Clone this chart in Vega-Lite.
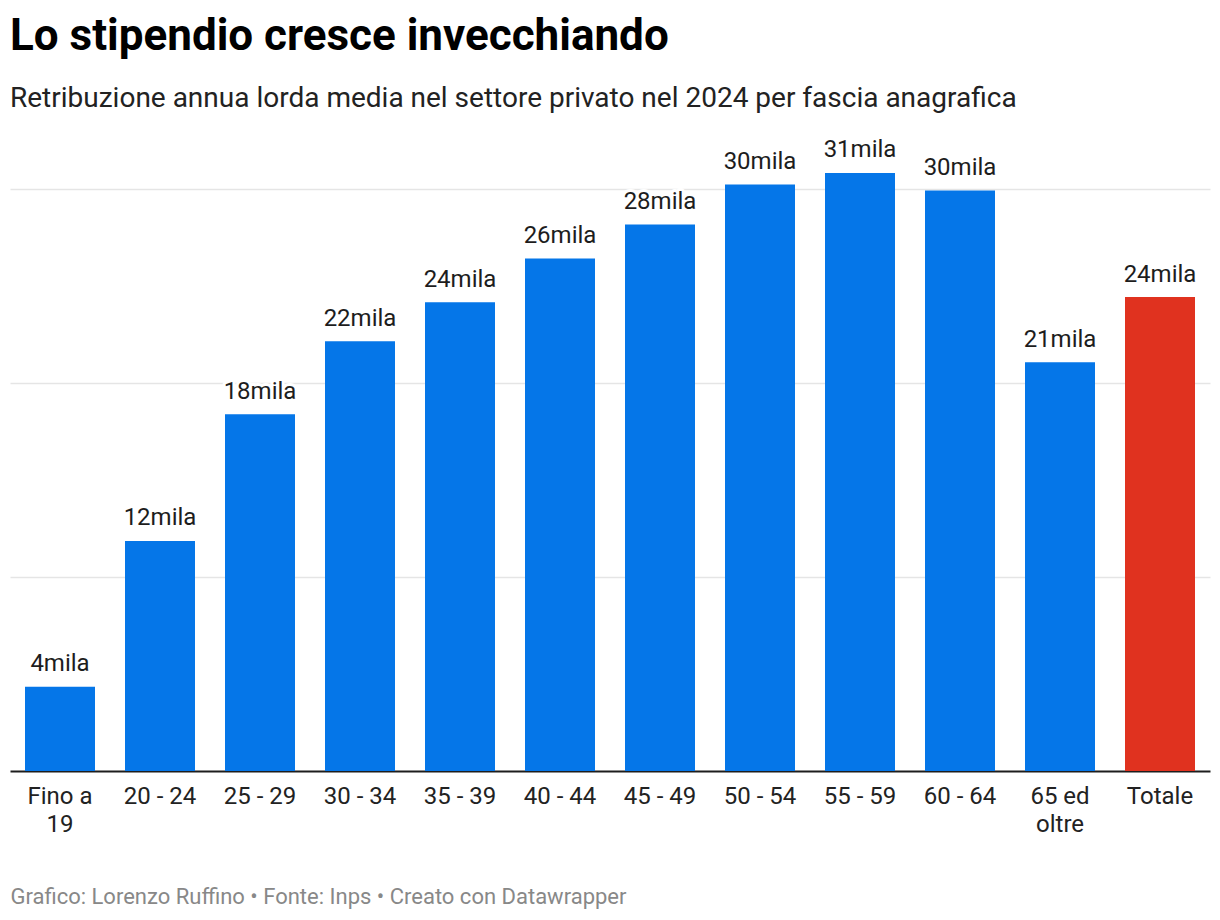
{
  "$schema": "https://vega.github.io/schema/vega-lite/v6.json",
  "width": 1200,
  "height": 640,
  "autosize": {"type": "pad"},
  "padding": {"left": 10, "right": 10, "top": 15, "bottom": 10},
  "background": "white",
  "title": {
    "text": "Lo stipendio cresce invecchiando",
    "subtitle": "Retribuzione annua lorda media nel settore privato nel 2024 per fascia anagrafica",
    "anchor": "start",
    "frame": "group",
    "font": "Roboto",
    "fontSize": 44,
    "fontWeight": "bold",
    "color": "#000000",
    "subtitleFont": "Roboto",
    "subtitleFontSize": 28,
    "subtitleColor": "#222222",
    "subtitlePadding": 25.5,
    "offset": 18.5
  },
  "config": {
    "view": {"stroke": null},
    "font": "Roboto"
  },
  "data": {
    "values": [
      {"fascia": "Fino a 19", "valore": 4350, "etichetta": "4mila", "tipo": "fascia"},
      {"fascia": "20 - 24", "valore": 11860, "etichetta": "12mila", "tipo": "fascia"},
      {"fascia": "25 - 29", "valore": 18400, "etichetta": "18mila", "tipo": "fascia"},
      {"fascia": "30 - 34", "valore": 22160, "etichetta": "22mila", "tipo": "fascia"},
      {"fascia": "35 - 39", "valore": 24170, "etichetta": "24mila", "tipo": "fascia"},
      {"fascia": "40 - 44", "valore": 26430, "etichetta": "26mila", "tipo": "fascia"},
      {"fascia": "45 - 49", "valore": 28180, "etichetta": "28mila", "tipo": "fascia"},
      {"fascia": "50 - 54", "valore": 30240, "etichetta": "30mila", "tipo": "fascia"},
      {"fascia": "55 - 59", "valore": 30840, "etichetta": "31mila", "tipo": "fascia"},
      {"fascia": "60 - 64", "valore": 29930, "etichetta": "30mila", "tipo": "fascia"},
      {"fascia": "65 ed oltre", "valore": 21080, "etichetta": "21mila", "tipo": "fascia"},
      {"fascia": "Totale", "valore": 24440, "etichetta": "24mila", "tipo": "totale"}
    ]
  },
  "encoding": {
    "x": {
      "field": "fascia",
      "type": "nominal",
      "sort": null,
      "scale": {"paddingInner": 0.3, "paddingOuter": 0.15},
      "axis": {
        "title": "Grafico: Lorenzo Ruffino • Fonte: Inps • Creato con Datawrapper",
        "titleAnchor": "start",
        "titleAlign": "left",
        "titleFont": "Roboto",
        "titleFontSize": 22,
        "titleFontWeight": "normal",
        "titleColor": "#888888",
        "titlePadding": 50.5,
        "labelAngle": 0,
        "labelFont": "Roboto",
        "labelFontSize": 24,
        "labelColor": "#222222",
        "labelPadding": 13,
        "labelLineHeight": 28,
        "labelExpr": "datum.value == 'Fino a 19' ? ['Fino a', '19'] : datum.value == '65 ed oltre' ? ['65 ed', 'oltre'] : datum.value",
        "ticks": false,
        "domain": true,
        "domainColor": "#1d1d1d",
        "domainWidth": 2,
        "grid": false
      }
    },
    "y": {
      "field": "valore",
      "type": "quantitative",
      "scale": {"domain": [0, 33000], "nice": false},
      "axis": {
        "title": null,
        "labels": false,
        "ticks": false,
        "domain": false,
        "grid": true,
        "gridColor": "#e5e5e5",
        "gridWidth": 1.3,
        "values": [10000, 20000, 30000]
      }
    }
  },
  "layer": [
    {
      "mark": {"type": "bar"},
      "encoding": {
        "color": {
          "field": "tipo",
          "type": "nominal",
          "scale": {"domain": ["fascia", "totale"], "range": ["#0576E8", "#E0321F"]},
          "legend": null
        }
      }
    },
    {
      "mark": {"type": "text", "baseline": "alphabetic", "dy": -15.5, "font": "Roboto", "fontSize": 24, "stroke": "white", "strokeWidth": 6, "strokeJoin": "round", "fill": "white"},
      "encoding": {"text": {"field": "etichetta"}}
    },
    {
      "mark": {"type": "text", "baseline": "alphabetic", "dy": -15.5, "font": "Roboto", "fontSize": 24, "color": "#1d1d1d"},
      "encoding": {"text": {"field": "etichetta"}}
    }
  ]
}
